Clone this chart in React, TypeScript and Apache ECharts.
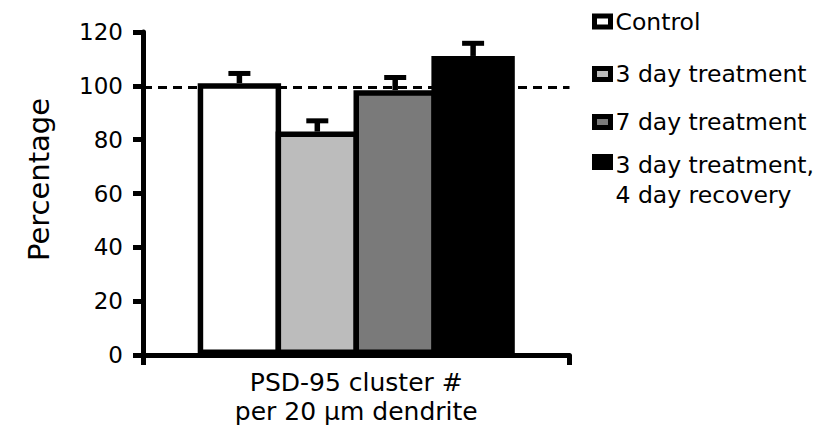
import { useEffect, useRef } from 'react';
import * as echarts from 'echarts';

// ---- data ----
const CATEGORIES = ['PSD-95'];
const SERIES_NAMES = ['Control', '3 day treatment', '7 day treatment', '3 day treatment, 4 day recovery'];
const MEANS = [101, 83, 98.4, 111.1];
const ERRORS = [3.6, 4.0, 4.7, 4.7];
const REFERENCE_LEVEL = 99.3;
const Y_MIN = 0;
const Y_MAX = 120;
const Y_STEP = 20;
const Y_TITLE = 'Percentage';
const X_TITLE = 'PSD-95 cluster #\nper 20 µm dendrite';

// ---- styling ----
const FILLS = ['#ffffff', '#bcbcbc', '#7a7a7a', '#000000'];
const FONT = 'DejaVu Sans';
const BAR_WIDTH = 83.4;
const BORDER = 5.5;
const BAR_GAP = -BORDER / BAR_WIDTH; // neighbouring bars share one border
const BAR_STEP = BAR_WIDTH * (1 + BAR_GAP);

export default function App() {
  const ref = useRef<HTMLDivElement>(null);

  useEffect(() => {
    if (!ref.current) return;
    const chart = echarts.init(ref.current, null, { renderer: 'svg' });

    const barSeries = SERIES_NAMES.map((name, i) => ({
      name,
      type: 'bar',
      data: [MEANS[i]],
      barWidth: BAR_WIDTH,
      barGap: `${(BAR_GAP * 100).toFixed(3)}%`,
      itemStyle: { color: FILLS[i], borderColor: '#000', borderWidth: BORDER },
      z: 2,
      ...(i === 0
        ? {
            markLine: {
              silent: true,
              symbol: ['none', 'none'],
              label: { show: false },
              lineStyle: { color: '#000', width: 3, type: [9, 6] },
              data: [{ yAxis: REFERENCE_LEVEL }],
              z: 1,
            },
          }
        : {}),
    }));

    const errorSeries = {
      name: 'SEM',
      type: 'custom',
      z: 3,
      data: MEANS.map((m, i) => [0, m, ERRORS[i]]),
      renderItem: (params: any, api: any) => {
        const idx = params.dataIndex;
        const mean = api.value(1);
        const err = api.value(2);
        const base = api.coord([0, mean]);
        const top = api.coord([0, mean + err]);
        const x = base[0] + (idx - (MEANS.length - 1) / 2) * BAR_STEP;
        return {
          type: 'group',
          children: [
            { type: 'line', shape: { x1: x, y1: base[1], x2: x, y2: top[1] }, style: { stroke: '#000', lineWidth: 5.5 } },
            { type: 'line', shape: { x1: x - 11, y1: top[1], x2: x + 11, y2: top[1] }, style: { stroke: '#000', lineWidth: 5 } },
          ],
        };
      },
    };

    const legendTops = [6.5, 59, 107, 117];
    const legendFont = { fontFamily: FONT, fontSize: 23.5, lineHeight: 30, color: '#000' };
    const legends = SERIES_NAMES.map((name, i) => ({
      data: [name],
      left: 592,
      top: legendTops[i],
      padding: 0,
      selectedMode: false,
      itemWidth: 16,
      itemHeight: 11,
      icon: 'rect',
      itemStyle: { borderColor: '#000', borderWidth: 5 },
      formatter: (n: string) => {
        const parts = n.split(', ');
        return parts.length > 1 ? `{a|${parts[0]},}\n{a|${parts[1]}}` : n;
      },
      textStyle: {
        ...legendFont,
        rich: {
          a: { ...legendFont, padding: [36, 0, 0, 0] },
        },
      },
    }));

    chart.setOption({
      animation: false,
      backgroundColor: '#fff',
      textStyle: { fontFamily: FONT, color: '#000' },
      grid: { left: 143, right: 248.5, top: 32, bottom: 81, containLabel: false },
      legend: legends,
      xAxis: {
        type: 'category',
        data: CATEGORIES,
        name: X_TITLE,
        nameLocation: 'middle',
        nameGap: 12.5,
        nameTextStyle: { fontFamily: FONT, fontSize: 25, lineHeight: 29, color: '#000' },
        axisLine: { lineStyle: { color: '#000', width: 5 } },
        axisTick: { show: true, inside: false, length: 10, lineStyle: { color: '#000', width: 5 } },
        axisLabel: { show: false },
        splitLine: { show: false },
      },
      yAxis: {
        type: 'value',
        min: Y_MIN,
        max: Y_MAX,
        interval: Y_STEP,
        name: Y_TITLE,
        nameLocation: 'middle',
        nameRotate: 90,
        nameGap: 90,
        nameTextStyle: { fontFamily: FONT, fontSize: 29, color: '#000', padding: [0, 0, 0, 28] },
        axisLine: { show: true, lineStyle: { color: '#000', width: 5 } },
        axisTick: { show: true, inside: false, length: 10, lineStyle: { color: '#000', width: 5 } },
        axisLabel: { fontFamily: FONT, fontSize: 23, color: '#000', margin: 20 },
        splitLine: { show: false },
      },
      series: [...barSeries, errorSeries],
    });

    return () => chart.dispose();
  }, []);

  return (
    <div
      ref={ref}
      style={{ position: 'fixed', left: 0, top: 0, width: 818, height: 436, background: '#fff' }}
    />
  );
}
